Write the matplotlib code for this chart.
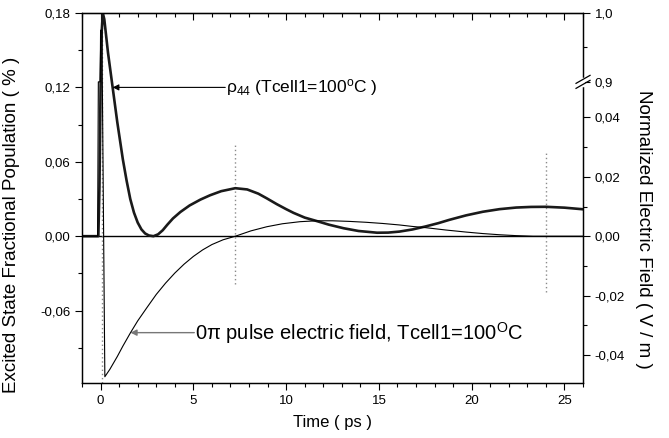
import numpy as np
import matplotlib
matplotlib.use("Agg")
import matplotlib.pyplot as plt
from matplotlib.ticker import FixedLocator, FixedFormatter, MultipleLocator

plt.rcParams['font.family'] = ['Liberation Sans', 'DejaVu Sans']
plt.rcParams['mathtext.fontset'] = 'custom'
plt.rcParams['mathtext.rm'] = 'Liberation Sans'
plt.rcParams['mathtext.it'] = 'Liberation Sans:italic'
plt.rcParams['mathtext.bf'] = 'Liberation Sans:bold'

# ---- data ----
rho_t = [-1.0, -0.12, -0.06, 0.0, 0.06, 0.12, 0.2, 0.4, 0.65, 0.9, 1.2, 1.4, 1.6, 1.8,
         2.0, 2.2, 2.4, 2.6, 2.85, 3.1, 3.35, 3.6, 3.9, 4.3, 4.8, 5.38, 5.9, 6.5, 7.26,
         7.9, 8.5, 8.96, 9.5, 10.0, 10.4, 11.0, 11.65, 12.3, 13.1, 13.9, 14.9, 15.5,
         16.1, 16.8, 17.5, 18.2, 18.8, 19.7, 20.6, 21.5, 22.4, 23.2, 24.0, 25.0, 26.0]
rho_v = [0.0, 0.0, 0.04, 0.12, 0.165, 0.18, 0.175, 0.148, 0.12, 0.092, 0.062, 0.045,
         0.030, 0.019, 0.011, 0.0055, 0.0022, 0.0006, 0.0, 0.0015, 0.0048, 0.0093, 0.0143,
         0.0195, 0.0248, 0.0295, 0.033, 0.0363, 0.0387, 0.0377, 0.0343, 0.0305, 0.0258,
         0.0218, 0.0188, 0.0150, 0.0122, 0.0093, 0.0064, 0.0042, 0.0028, 0.0029, 0.0037,
         0.0054, 0.0078, 0.0105, 0.0132, 0.0168, 0.0197, 0.0218, 0.0231, 0.0236, 0.0237,
         0.0230, 0.0217]

field_t = [-1.0, -0.16, -0.12, -0.02, 0.0, 0.07, 0.23, 0.5, 0.9, 1.2, 1.61, 2.0, 2.5,
           3.0, 3.5, 4.0, 4.5, 5.0, 5.5, 6.0, 6.6, 7.26, 8.1, 8.96, 9.8, 10.75, 11.65,
           12.5, 13.4, 14.3, 15.2, 16.1, 16.8, 17.5, 18.6, 19.7, 20.6, 21.5, 22.4, 23.3,
           26.0]
field_v = [0.0, 0.0, 0.9, 0.9, 0.975, 0.975, -0.0473, -0.0448, -0.0405, -0.0370, -0.0325,
           -0.0285, -0.0240, -0.0196, -0.0158, -0.0124, -0.0094, -0.0068, -0.0046,
           -0.0028, -0.0012, 0.0, 0.0018, 0.0032, 0.0042, 0.0049, 0.0052, 0.0052, 0.0050,
           0.0047, 0.0043, 0.0038, 0.0033, 0.0029, 0.0021, 0.0014, 0.0009, 0.0005,
           0.0002, 0.0, 0.0]

marker_t = [0.09, 7.26, 24.0]
marker_lo = [-0.1184, -0.0387, -0.0451]
marker_hi = [0.18, 0.0733, 0.0668]

left_ticks = [-0.06, 0.0, 0.06, 0.12, 0.18]
left_labels = ['-0,06', '0,00', '0,06', '0,12', '0,18']
right_ticks = [-0.04, -0.02, 0.0, 0.02, 0.04, 0.9, 1.0]
right_labels = ['-0,04', '-0,02', '0,00', '0,02', '0,04', '0,9', '1,0']
right_minor = [-0.03, -0.01, 0.01, 0.03, 0.95]

# broken right scale: lower segment and upper segment
seg_e = [-1.0, 0.0518, 0.9, 2.0]
seg_y = [-2.396, 0.1241, 0.1245, 0.1245 + 1.1 * 0.5553]


def fwd(e):
    return np.interp(e, seg_e, seg_y)


def inv(y):
    return np.interp(y, seg_y, seg_e)


fig = plt.figure(figsize=(6.69, 4.38), dpi=100)
ax = fig.add_axes([0.1226, 0.1256, 0.7489, 0.8447])
ax2 = ax.twinx()
ax2.set_yscale('function', functions=(fwd, inv))

ax.set_xlim(-1, 26)
ax.set_ylim(-0.1184, 0.18)
ax2.set_ylim(-0.0494, 1.0)

ax.axhline(0, color='black', lw=1.0, zorder=1)
ax.vlines(marker_t, marker_lo, marker_hi, colors='#8a8a8a', linestyles=(0, (1, 2)), lw=1.0)
ax.plot(rho_t, rho_v, color='#1a1a1a', lw=1.9, zorder=3)
ax2.plot(field_t, field_v, color='black', lw=0.8)

# ticks
ax.xaxis.set_major_locator(MultipleLocator(5))
ax.xaxis.set_minor_locator(MultipleLocator(1))
ax.yaxis.set_major_locator(FixedLocator(left_ticks))
ax.yaxis.set_major_formatter(FixedFormatter(left_labels))
ax.yaxis.set_minor_locator(MultipleLocator(0.03))
ax.tick_params(which='both', direction='out', right=False, labelsize=9.5, width=0.8)
ax.tick_params(which='major', length=5)
ax.tick_params(which='minor', length=3)

sec = ax.secondary_xaxis('top')
sec.xaxis.set_major_locator(MultipleLocator(5))
sec.xaxis.set_minor_locator(MultipleLocator(1))
sec.tick_params(which='both', direction='in', labeltop=False, width=0.8)
sec.tick_params(which='major', length=5)
sec.tick_params(which='minor', length=3)

ax2.yaxis.set_major_locator(FixedLocator(right_ticks))
ax2.yaxis.set_major_formatter(FixedFormatter(right_labels))
ax2.yaxis.set_minor_locator(FixedLocator(right_minor))
ax2.tick_params(which='both', direction='out', labelsize=9.5, width=0.8)
ax2.tick_params(which='major', length=5)
ax2.tick_params(which='minor', length=3)

for a in (ax, ax2):
    for s in a.spines.values():
        s.set_linewidth(0.9)

ax.set_xlabel('Time ( ps )', fontsize=12, labelpad=6)
ax.set_ylabel('Excited State Fractional Population ( % )', fontsize=13.5)
ax.yaxis.set_label_coords(-0.124, 0.427)
ax2.set_ylabel('Normalized Electric Field ( V / m )', fontsize=13.5, rotation=270,
               va='center')
ax2.yaxis.set_label_coords(1.12, 0.414)

# axis break marks on the right spine
fig.canvas.draw()
yb = ax2.transAxes.inverted().transform(ax2.transData.transform((0, 0.9)))[1]
w_ax = 501.0
h_ax = 370.0
ax2.plot([1, 1], [yb - 3 / h_ax, yb + 3 / h_ax], transform=ax2.transAxes,
         color='white', lw=2.5, clip_on=False, zorder=5)
for off in (-2.5, 2.5):
    ax2.plot([1 - 7 / w_ax, 1 + 7 / w_ax],
             [yb + (off - 4) / h_ax, yb + (off + 4) / h_ax],
             transform=ax2.transAxes, color='black', lw=0.9, clip_on=False, zorder=6)

# annotations
ax.annotate('', xy=(0.65, 0.12), xytext=(6.72, 0.12),
            arrowprops=dict(arrowstyle='-|>', color='black', lw=0.8, mutation_scale=9,
                            shrinkA=0, shrinkB=0))
ax.text(6.78, 0.12, r'ρ$_{44}$ (Tcell1=100$^{\mathrm{o}}$C )', fontsize=12.5,
        va='center', ha='left')
ax.annotate('', xy=(1.61, -0.0778), xytext=(5.05, -0.0778),
            arrowprops=dict(arrowstyle='-|>', color='#777777', lw=1.0, mutation_scale=9,
                            shrinkA=0, shrinkB=0))
ax.text(5.1, -0.0778, r'0π pulse electric field, Tcell1=100$^{\mathrm{O}}$C', fontsize=14.5,
        va='center', ha='left')

fig.savefig('out.png', dpi=100)
